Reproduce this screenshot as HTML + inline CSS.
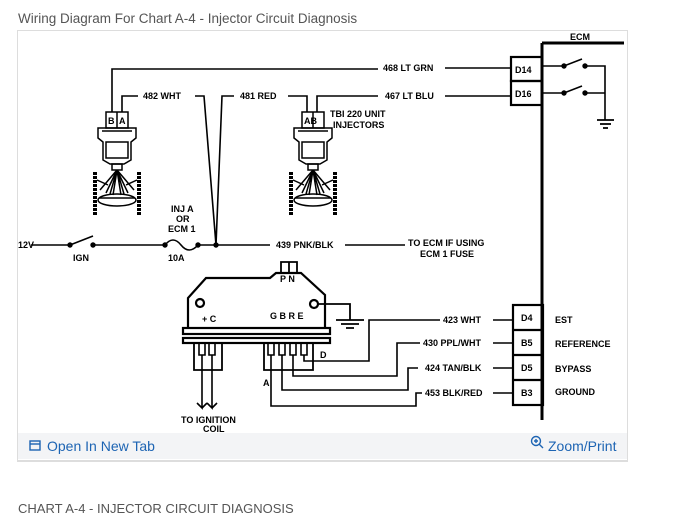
<!DOCTYPE html>
<html><head><meta charset="utf-8"><style>
body{margin:0;width:689px;height:526px;background:#fff;font-family:"Liberation Sans",sans-serif;position:relative;overflow:hidden}
.t{position:absolute;left:18px;top:11px;font-size:13.5px;color:#555}
.frame{position:absolute;left:17px;top:30px;width:609px;height:429px;border:1px solid #ddd;border-bottom:2px solid #ddd}
.bar{position:absolute;left:18px;top:433px;width:609px;height:26px;background:#f3f4f6}
.l1{position:absolute;left:47px;top:438px;font-size:14px;color:#1d64b3}
.l2{position:absolute;left:548px;top:438px;font-size:14px;color:#1d64b3}
.cap{position:absolute;left:18px;top:501px;font-size:13px;color:#555}
svg{position:absolute;left:0;top:0}
svg text{font-family:"Liberation Sans",sans-serif;font-weight:bold;font-size:9px;fill:#000}
</style></head><body>
<div class="t">Wiring Diagram For Chart A-4 - Injector Circuit Diagnosis</div>
<div class="frame"></div>
<div class="bar"></div>
<svg width="689" height="526" viewBox="0 0 689 526">
<defs>
<g id="inj" fill="none" stroke="#000" stroke-width="1.5">
<rect x="106" y="112" width="22" height="16" fill="#fff"/>
<line x1="117" y1="112" x2="117" y2="128"/>
<path d="M98 128 H136 V138 L131 142 V160 L124 164 H110 L103 160 V142 L98 138 Z"/>
<path d="M102 131 H132 M106 142 H128 V158 H106 Z"/>
<rect x="112" y="164" width="10" height="6"/>
<path d="M117 170 L100 190 M117 170 L106 193 M117 170 L113 195 M117 170 L121 195 M117 170 L128 193 M117 170 L134 190 M117 170 L110 194 M117 170 L124 194"/>
<ellipse cx="117" cy="200" rx="19" ry="6"/>
<path d="M99 198 H135"/>
<line x1="95" y1="172" x2="95" y2="215" stroke-width="4" stroke-dasharray="3 1"/>
<line x1="139" y1="172" x2="139" y2="215" stroke-width="4" stroke-dasharray="3 1"/>
<path d="M97 180 L108 185 M137 180 L126 185"/>
</g>
</defs>
<use href="#inj"/>
<use href="#inj" transform="translate(196,0)"/>
<g fill="none" stroke="#000" stroke-width="1.6">
<path d="M112 112 V69 H378 M122 112 V96 H138 M195 96 H204 L216 245 L222 96 H234 M288 96 H307 V112 M317 112 V96 H378"/>
<path d="M445 68 H511 M445 96 H511"/>
<path d="M31 245 H70 M93 245 H163 M198 245 H270 M345 245 H405"/>
<path d="M70 245 L93 236"/>
<path d="M165 245 Q173 235 181 245 Q189 255 198 245"/>
<rect x="511" y="57" width="31" height="24" stroke-width="2.2"/>
<rect x="511" y="81" width="31" height="24" stroke-width="2.2"/>
<path d="M542 43 H624 M542 43 V420" stroke-width="3"/>
<path d="M542 66 H564 L582 59 M585 66 H605 V120 M542 93 H564 L582 86 M585 93 H605"/>
<path d="M597 120 H614 M600 124 H611 M603 128 H608" stroke-width="1.8"/>
<path d="M188 327 V298 L206 278 H270 L276 273 H301 L325 295 V327" stroke-width="2.2"/>
<path d="M281 273 V262 H289 V273 M289 262 H297 V273" stroke-width="1.8"/>
<circle cx="200" cy="303" r="4" stroke-width="2.2"/>
<circle cx="314" cy="304" r="4" stroke-width="2.2"/>
<path d="M318 304 H350 V320 M336 320 H364 M341 324 H359 M346 328 H354" stroke-width="1.8"/>
<rect x="183" y="328" width="147" height="6" stroke-width="2.2"/>
<rect x="183" y="338" width="147" height="5" stroke-width="2.2"/>
<path d="M194 343 V370 H222 V343 M264 343 V370 H313 V343" stroke-width="1.8"/>
<path d="M199 343 V355 H205 V343 M209 343 V355 H215 V343 M268 343 V355 H274 V343 M279 343 V355 H285 V343 M290 343 V355 H296 V343 M301 343 V355 H307 V343"/>
<path d="M202 355 V408 L197 403 M202 408 L207 403 M212 355 V408 L207 403 M212 408 L217 403"/>
<path d="M304 355 V361 H369 V320 H440 M493 320 H513"/>
<path d="M293 355 V376 H397 V343 H420 M493 343 H513"/>
<path d="M282 355 V390 H408 V368 H418 M493 368 H513"/>
<path d="M271 355 V406 H416 V393 H422 M493 393 H513"/>
<rect x="513" y="305" width="30" height="100" stroke-width="2.2"/>
<path d="M513 330 H543 M513 355 H543 M513 380 H543" stroke-width="2.2"/>
</g>
<g fill="#000">
<circle cx="70" cy="245" r="2.7"/><circle cx="93" cy="245" r="2.7"/>
<circle cx="165" cy="245" r="2.7"/><circle cx="198" cy="245" r="2.7"/><circle cx="216" cy="245" r="2.7"/>
<circle cx="564" cy="66" r="2.7"/><circle cx="585" cy="66" r="2.7"/>
<circle cx="564" cy="93" r="2.7"/><circle cx="585" cy="93" r="2.7"/>
</g>
<text x="108" y="124" font-size="8">B</text><text x="119" y="124" font-size="8">A</text>
<text x="304" y="124" font-size="8">AB</text>
<text x="143" y="99">482 WHT</text>
<text x="240" y="99">481 RED</text>
<text x="383" y="71">468 LT GRN</text>
<text x="385" y="99">467 LT BLU</text>
<text x="330" y="117">TBI 220 UNIT</text>
<text x="333" y="128">INJECTORS</text>
<text x="570" y="40" font-size="11">ECM</text>
<text x="515" y="73">D14</text><text x="515" y="97">D16</text>
<text x="171" y="212">INJ A</text><text x="176" y="222">OR</text><text x="168" y="232">ECM 1</text>
<text x="18" y="248">12V</text>
<text x="73" y="261">IGN</text><text x="168" y="261">10A</text>
<text x="276" y="248">439 PNK/BLK</text>
<text x="408" y="246">TO ECM IF USING</text>
<text x="420" y="257">ECM 1 FUSE</text>
<text x="280" y="282" font-size="8">P N</text>
<text x="202" y="322">+ C</text>
<text x="270" y="319">G B R E</text>
<text x="320" y="358">D</text>
<text x="263" y="386">A</text>
<text x="443" y="323">423 WHT</text>
<text x="423" y="346">430 PPL/WHT</text>
<text x="425" y="371">424 TAN/BLK</text>
<text x="425" y="396">453 BLK/RED</text>
<text x="521" y="321">D4</text><text x="521" y="346">B5</text><text x="521" y="371">D5</text><text x="521" y="396">B3</text>
<text x="555" y="323">EST</text><text x="555" y="347">REFERENCE</text>
<text x="555" y="372">BYPASS</text><text x="555" y="395">GROUND</text>
<text x="181" y="423">TO IGNITION</text><text x="203" y="432">COIL</text>
<g fill="none" stroke="#1d64b3" stroke-width="1.4">
<rect x="30" y="441" width="10" height="9"/><path d="M30 444 H40"/>
<circle cx="536" cy="441" r="4.5"/><path d="M539 444 L543 448 M534 441 H538 M536 439 V443"/>
</g>
</svg>
<div class="l1">Open In New Tab</div>
<div class="l2">Zoom/Print</div>
<div class="cap">CHART A-4 - INJECTOR CIRCUIT DIAGNOSIS</div>
</body></html>
